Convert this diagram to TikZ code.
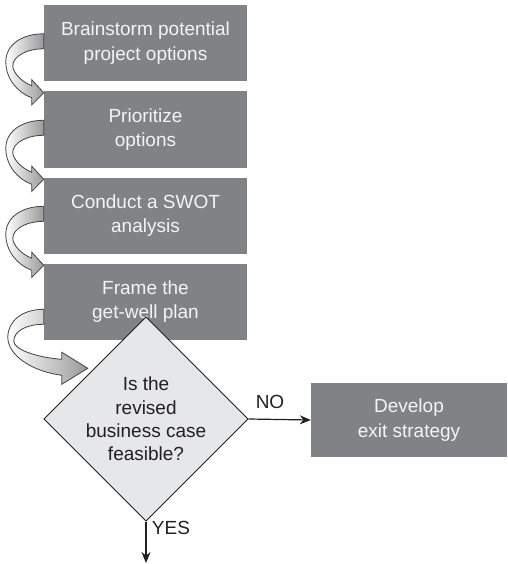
\documentclass[tikz,border=0pt]{standalone}
\usepackage{fontspec}
\setmainfont{Liberation Sans}
\usetikzlibrary{shapes.geometric,arrows.meta}
\definecolor{boxgray}{HTML}{808285}
\definecolor{boxtext}{HTML}{F4F4F4}
\definecolor{dmdfill}{HTML}{E6E7E8}
\definecolor{inkc}{HTML}{231F20}
\begin{document}
\begin{tikzpicture}[x=1pt,y=-1pt,
  stepbox/.style={rectangle,fill=boxgray,text=boxtext,minimum width=203pt,minimum height=76pt,inner sep=0pt,align=center,font=\fontsize{19}{24.5}\selectfont},
  decision/.style={diamond,fill=dmdfill,draw=inkc,line width=0.9pt,text=inkc,minimum width=202pt,minimum height=160pt,inner sep=0pt,align=center,font=\fontsize{19}{23.3}\selectfont},
  lbl/.style={text=inkc,inner sep=0pt,font=\fontsize{19}{23}\selectfont},
  flow/.style={draw=inkc,line width=1.2pt,-{Stealth[length=11pt,width=9pt]}},
  curl/.style={draw=inkc!85,line width=0.8pt,left color=white,right color=gray!80}
]
\useasboundingbox (0,0) rectangle (507,564);
\node[stepbox] (b1) at (145.5,43) {Brainstorm potential\\project options};
\node[stepbox] (b2) at (145.5,129.5) {Prioritize\\options};
\node[stepbox] (b3) at (145.5,215.5) {Conduct a SWOT\\analysis};
\node[stepbox] (b4) at (145.5,301.5) {Frame the\\get-well plan};
\node[decision] (d) at (146,419) {Is the\\revised\\business case\\feasible?};
\node[stepbox,minimum width=196pt,minimum height=74pt] (ex) at (409,420) {Develop\\exit strategy};
\coordinate (yesend) at (146,563);
\draw[flow] (d.east) -- (ex.west);
\draw[flow] (d.south) -- (yesend);
\node[lbl] (no) at (270,402) {NO};
\node[lbl] (yes) at (171,528) {YES};
% curled arrows
\foreach \b in {b1,b2,b3}{
  \begin{scope}[shift={(\b.north west)}]
    \path[curl] (0,29) .. controls (-22,29) and (-38,40) .. (-38,57)
      .. controls (-38,74) and (-26,88) .. (-12,93) -- (-12,100) -- (0,88)
      -- (-12,75) -- (-12,81) .. controls (-22,77) and (-31,68) .. (-31,61)
      .. controls (-31,52) and (-18,44) .. (0,44) -- cycle;
  \end{scope}
}
\begin{scope}[shift={(b4.north west)}]
  \path[curl] (0,46) .. controls (-22,46) and (-36,58) .. (-36,74)
    .. controls (-36,92) and (-12,108) .. (18,112) -- (18,121) -- (44,105)
    -- (18,89) -- (18,96) .. controls (-8,94) and (-30,86) .. (-30,78)
    .. controls (-30,68) and (-18,61) .. (0,61) -- cycle;
\end{scope}
\end{tikzpicture}
\end{document}
